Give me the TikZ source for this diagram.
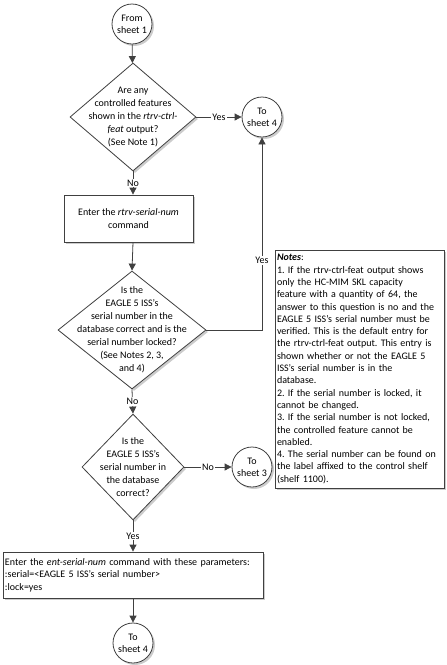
\documentclass[tikz,border=0pt]{standalone}
\usepackage{fontspec}
\setmainfont{Carlito}
\usetikzlibrary{shapes.geometric,arrows.meta,shadows}
\frenchspacing
\tikzset{
	base/.style={draw=black!75, line width=0.8pt, fill=white,
		drop shadow={shadow xshift=2pt, shadow yshift=-2pt, fill=black!20, opacity=1}},
	sheet/.style={base, circle, minimum size=40pt, inner sep=0pt, align=center,
		font=\fontsize{10}{12}\selectfont},
	decision/.style={base, diamond, inner sep=0pt},
	qtext/.style={align=center, inner sep=0pt, font=\fontsize{10}{13}\selectfont},
	process/.style={base, rectangle, inner sep=2pt, font=\fontsize{10}{12.5}\selectfont},
	lbl/.style={fill=white, inner sep=1pt, font=\fontsize{10}{12}\selectfont},
	pfeil/.style={draw=black!75, line width=0.8pt, -{Triangle[width=7pt,length=7pt]}}
}
\begin{document}
\begin{tikzpicture}[x=1pt, y=-1pt]
	\useasboundingbox (0,0) rectangle (447,665);
	% Knoten
	\node[sheet] (s1) at (132,24) {From\\sheet 1};
	\node[decision, minimum width=126pt, minimum height=108pt,
		label={[qtext]center:Are any\\controlled features\\shown in the \emph{rtrv-ctrl-}\\\emph{feat} output?\\(See Note 1)}]
		(q1) at (133,117) {};
	\node[sheet] (t4a) at (262,117) {To\\sheet 4};
	\node[process, minimum width=129pt, minimum height=47pt, align=center]
		(cmd1) at (128.5,218.5) {Enter the \emph{rtrv-serial-num}\\command};
	\node[decision, minimum width=148pt, minimum height=118pt,
		label={[qtext]center:Is the\\EAGLE 5 ISS's\\serial number in the\\database correct and is the\\serial number locked?\\(See Notes 2, 3,\\and 4)}]
		(q2) at (132,330) {};
	\node[process, text width=165pt, align=left, minimum height=238pt,
		font=\fontsize{10}{12.3}\selectfont]
		(notes) at (359.5,369) {\textbf{\emph{Notes}}:\\
		1. If the rtrv-ctrl-feat output shows\\
		only the HC-MIM SKL capacity\\
		feature with a quantity of 64, the\\
		answer to this question is no and the\\
		EAGLE 5 ISS's serial number must be\\
		verified. This is the default entry for\\
		the rtrv-ctrl-feat output. This entry is\\
		shown whether or not the EAGLE 5\\
		ISS's serial number is in the\\
		database.\\
		2. If the serial number is locked, it\\
		cannot be changed.\\
		3. If the serial number is not locked,\\
		the controlled feature cannot be\\
		enabled.\\
		4. The serial number can be found on\\
		the label affixed to the control shelf\\
		(shelf 1100).};
	\node[decision, minimum width=102pt, minimum height=106pt,
		label={[qtext]center:Is the\\EAGLE 5 ISS's\\serial number in\\the database\\correct?}]
		(q3) at (133,467) {};
	\node[sheet] (t3) at (252,467) {To\\sheet 3};
	\node[process, text width=256pt, align=left, minimum height=46pt]
		(cmd2) at (133,575) {Enter the \emph{ent-serial-num} command with these parameters:\\
		:serial=<EAGLE 5 ISS's serial number>\\
		:lock=yes};
	\node[sheet] (t4b) at (133,643) {To\\sheet 4};
	% Pfeile
	\draw[pfeil] (s1) -- (q1);
	\draw[pfeil] (q1) -- node[lbl] {Yes} (t4a);
	\draw[pfeil] (q1.south) -- node[lbl] {No} (q1.south |- cmd1.north);
	\draw[pfeil] (q1.south |- cmd1.south) -- (q2.north);
	\draw[pfeil] (q2.east) -| node[lbl, pos=0.68] {Yes} (t4a.south);
	\draw[pfeil] (q2.south) -- node[lbl] {No} (q3.north);
	\draw[pfeil] (q3) -- node[lbl] {No} (t3);
	\draw[pfeil] (q3.south) -- node[lbl] {Yes} (q3.south |- cmd2.north);
	\draw[pfeil] (q3.south |- cmd2.south) -- (t4b);
\end{tikzpicture}
\end{document}
